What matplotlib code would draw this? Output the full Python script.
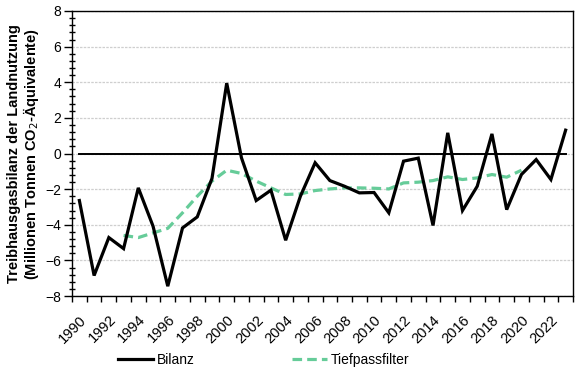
import numpy as np
import matplotlib
matplotlib.use("Agg")
import matplotlib.pyplot as plt
from matplotlib.ticker import MultipleLocator, FixedLocator

plt.rcParams['font.family'] = ['Liberation Sans', 'DejaVu Sans']

years = list(range(1990, 2024))
bilanz = [-2.64, -6.85, -4.72, -5.34, -1.93, -4.08, -7.45, -4.18, -3.56, -1.40,
          3.95, -0.24, -2.64, -2.06, -4.87, -2.40, -0.52, -1.52, -1.84, -2.21,
          -2.19, -3.33, -0.43, -0.26, -4.04, 1.16, -3.20, -1.84, 1.10, -3.15,
          -1.18, -0.34, -1.46, 1.31]
filter_years = list(range(1993, 2021))
tiefpass = [-4.60, -4.72, -4.46, -4.20, -3.33, -2.40, -1.55, -0.94, -1.12, -1.55,
            -1.93, -2.30, -2.27, -2.08, -1.99, -1.93, -1.93, -1.95, -1.99, -1.65,
            -1.61, -1.52, -1.31, -1.46, -1.37, -1.18, -1.33, -0.94]
zero_line = [0.0] * len(years)
tick_labels = [str(y) for y in years if y % 2 == 0]

fig = plt.figure(figsize=(5.88, 3.75), dpi=100)
ax = fig.add_axes([72/588, 1-296/375, (573-72)/588, (296-11)/375])

x = np.arange(len(years))
xf = np.array([years.index(y) for y in filter_years])

ax.plot(x, zero_line, color='black', lw=1.4, zorder=2)
ax.plot(x, bilanz, color='black', lw=2.3, zorder=4, label='Bilanz', solid_joinstyle='miter')
ax.plot(xf, tiefpass, color='#66cc99', lw=2.3, ls=(0, (3, 1.6)), zorder=3, label='Tiefpassfilter')

ax.set_xlim(-0.5, len(years) - 0.5)
ax.set_ylim(-8, 8)
ax.yaxis.set_major_locator(MultipleLocator(2))
ax.yaxis.set_minor_locator(MultipleLocator(0.4))
ax.grid(axis='y', which='major', color='#cfcfcf', lw=0.9, ls=(0, (2, 1)), zorder=0)

ax.xaxis.set_major_locator(FixedLocator(np.arange(len(years) + 1) - 0.5))
ax.xaxis.set_major_formatter(plt.NullFormatter())
label_pos = [years.index(int(t)) for t in tick_labels]
ax.xaxis.set_minor_locator(FixedLocator(label_pos))
ax.set_xticklabels(tick_labels, minor=True, rotation=45, ha='right', rotation_mode='anchor', fontsize=10.5)
ax.tick_params(axis='x', which='minor', length=0, pad=12)
ax.tick_params(axis='x', which='major', length=4, width=1, direction='out')
ax.tick_params(axis='y', which='major', length=6, width=1, direction='out', labelsize=10, pad=2)
ax.tick_params(axis='y', which='minor', length=4, width=1, direction='inout')
for s in ax.spines.values():
    s.set_linewidth(1.0)
    s.set_color('black')

ax.set_ylabel('Treibhausgasbilanz der Landnutzung\n(Millionen Tonnen CO$_2$-Äquivalente)',
              fontsize=10.5, fontweight='bold', labelpad=3, linespacing=1.0)

leg = fig.legend(loc='center', bbox_to_anchor=(264/588, 1-360/375), ncol=2, frameon=False,
                 fontsize=10, handlelength=2.5, columnspacing=7.0, handletextpad=0.3)

fig.savefig('out.png', dpi=100)
